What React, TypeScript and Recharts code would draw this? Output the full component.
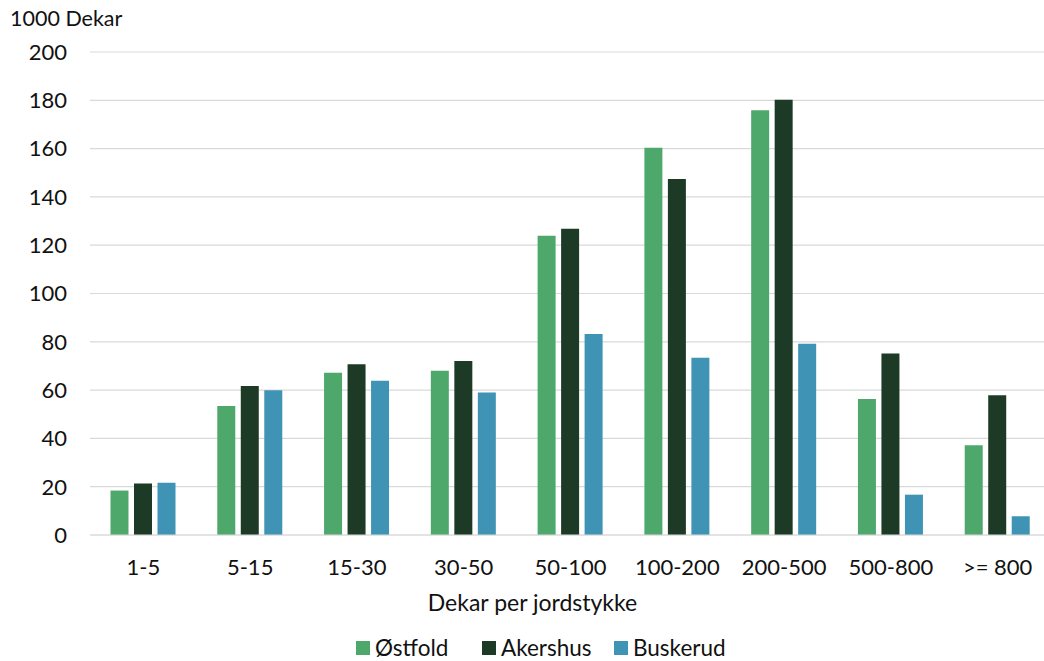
import React from 'react';
import { BarChart, Bar, XAxis, YAxis, CartesianGrid, Legend } from 'recharts';

const categories = ['1-5', '5-15', '15-30', '30-50', '50-100', '100-200', '200-500', '500-800', '>= 800'];
const ostfold = [18.4, 53.4, 67.2, 68.0, 123.9, 160.4, 175.9, 56.3, 37.2];
const akershus = [21.3, 61.7, 70.7, 72.0, 126.8, 147.4, 180.2, 75.2, 57.9];
const buskerud = [21.6, 59.9, 63.9, 59.0, 83.2, 73.4, 79.2, 16.7, 7.8];
const yTicks = [0, 20, 40, 60, 80, 100, 120, 140, 160, 180, 200];
const seriesNames = ['Østfold', 'Akershus', 'Buskerud'];
const seriesKeys = ['ostfold', 'akershus', 'buskerud'];
const colors = ['#4ea86c', '#1c3a26', '#3f94b5'];
const itemWidths = [126, 132, 130];

const data = categories.map((c, i) => ({
  cat: c,
  ostfold: ostfold[i],
  akershus: akershus[i],
  buskerud: buskerud[i],
}));

const FONT = 'Lato, "Open Sans", sans-serif';

const LegendContent = () => (
  <div style={{ display: 'flex', alignItems: 'center', fontFamily: FONT, fontSize: 22.5, color: '#111' }}>
    {seriesNames.map((n, i) => (
      <div key={n} style={{ display: 'flex', alignItems: 'center', width: itemWidths[i] }}>
        <span style={{ display: 'inline-block', width: 14, height: 14, background: colors[i], marginRight: 5 }} />
        <span>{n}</span>
      </div>
    ))}
  </div>
);

export default function App() {
  return (
    <div style={{ position: 'absolute', left: 0, top: 0, width: 1044, height: 661, background: '#fff', overflow: 'hidden' }}>
      <div style={{ position: 'absolute', left: 10, top: 5, fontFamily: FONT, fontSize: 21.5, color: '#111' }}>1000 Dekar</div>
      <BarChart
        width={1051}
        height={661}
        data={data}
        margin={{ top: 52, right: 0, left: 0, bottom: 19 }}
        barCategoryGap={20.5}
        barGap={5.5}
      >
        <CartesianGrid vertical={false} stroke="#d9d9d9" strokeWidth={1.2} />
        <YAxis
          width={90}
          domain={[0, 200]}
          ticks={yTicks}
          axisLine={false}
          tickLine={false}
          tickMargin={17}
          tick={{ fill: '#111', fontSize: 22, fontFamily: FONT }}
        />
        <XAxis
          dataKey="cat"
          height={80}
          tickLine={false}
          axisLine={{ stroke: '#d9d9d9', strokeWidth: 1.2 }}
          tickMargin={18}
          interval={0}
          tick={{ fill: '#111', fontSize: 22, fontFamily: FONT }}
          label={{ value: 'Dekar per jordstykke', position: 'insideBottom', offset: 4, dx: -38, fill: '#111', fontSize: 23, fontFamily: FONT }}
        />
        <Legend
          verticalAlign="bottom"
          content={<LegendContent />}
          wrapperStyle={{ left: 356, top: 634, width: 420 }}
        />
        {seriesKeys.map((k, i) => (
          <Bar key={k} dataKey={k} name={seriesNames[i]} fill={colors[i]} isAnimationActive={false} />
        ))}
      </BarChart>
    </div>
  );
}
